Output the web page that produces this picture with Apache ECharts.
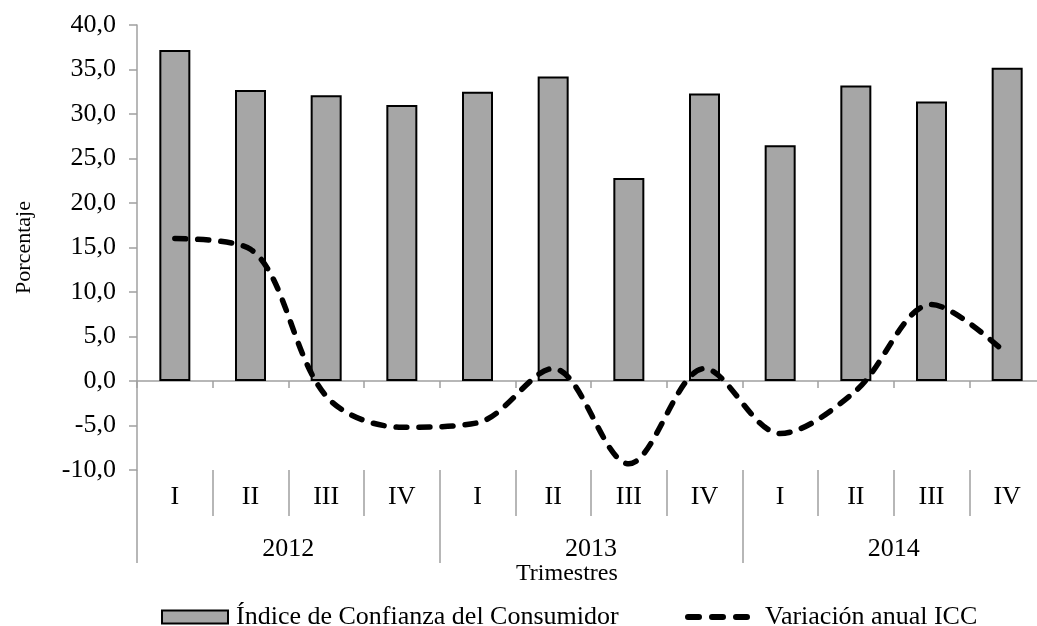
<!DOCTYPE html>
<html>
<head>
<meta charset="utf-8">
<script src="https://cdn.jsdelivr.net/npm/echarts@6/dist/echarts.min.js"></script>
<style>html,body{margin:0;padding:0;background:#fff}#c{width:1037px;height:626px}</style>
</head>
<body>
<div id="c"></div>
<script>
const quarters = ['I','II','III','IV','I','II','III','IV','I','II','III','IV'];
const years = ['2012','2013','2014'];
const icc = [37.2, 32.7, 32.1, 31.0, 32.5, 34.2, 22.8, 32.3, 26.5, 33.2, 31.4, 35.2];
const variacion = [16.0, 14.8, -1.7, -5.2, -4.7, 1.4, -9.3, 1.4, -5.9, -1.1, 8.6, 3.0];
const seriesNames = ['Índice de Confianza del Consumidor', 'Variación anual ICC'];

const FONT = '"Liberation Serif", "Times New Roman", serif';
const AX = '#a0a0a0';
const FS = 26;
const dashIcon = 'path://M3,0h11a3,3 0 0 1 0,6h-11a3,3 0 0 1 0,-6z M27,0h11a3,3 0 0 1 0,6h-11a3,3 0 0 1 0,-6z M51,0h11a3,3 0 0 1 0,6h-11a3,3 0 0 1 0,-6z';
const chart = echarts.init(document.getElementById('c'));
chart.setOption({
  animation: false,
  grid: {left: 137, right: -8, top: 25, bottom: 156, containLabel: false, outerBoundsMode: 'none'},
  legend: [
    {data: [{name: seriesNames[0], icon: 'rect'}], left: 156, top: 599, itemWidth: 66, itemHeight: 13,
     textStyle: {fontFamily: FONT, fontSize: FS, color: '#000', padding: [0, 0, 0, 3]}},
    {data: [{name: seriesNames[1], icon: dashIcon, itemStyle: {color: '#000', borderWidth: 0}}],
     left: 680, top: 599, itemWidth: 65, itemHeight: 6,
     textStyle: {fontFamily: FONT, fontSize: FS, color: '#000', padding: [0, 0, 0, 10]}}
  ],
  graphic: [{type: 'text', left: 516, top: 562, style: {text: 'Trimestres', font: '24px ' + FONT, fill: '#000'}}],
  xAxis: [
    {type: 'category', data: quarters, position: 'bottom',
     axisLine: {show: true, onZero: true, lineStyle: {color: AX, width: 1.5}},
     axisTick: {show: true, length: 7, lineStyle: {color: AX, width: 1.5}},
     axisLabel: {show: false}},
    {type: 'category', data: quarters, position: 'bottom', gridIndex: 0,
     axisLine: {show: false, onZero: false},
     axisTick: {show: true, inside: false, length: 46, lineStyle: {color: AX, width: 1.5}},
     axisLabel: {show: true, margin: 14, fontFamily: FONT, fontSize: FS, color: '#000'}},
    {type: 'category', data: years, position: 'bottom', gridIndex: 0,
     axisLine: {show: false, onZero: false},
     axisTick: {show: true, length: 93, lineStyle: {color: AX, width: 1.5}},
     axisLabel: {show: true, margin: 66, fontFamily: FONT, fontSize: FS, color: '#000'}}
  ],
  yAxis: {
    type: 'value', min: -10, max: 40, interval: 5,
    name: 'Porcentaje', nameLocation: 'middle', nameGap: 102, nameRotate: 90,
    nameTextStyle: {fontFamily: FONT, fontSize: 22, color: '#000'},
    axisLine: {show: true, lineStyle: {color: AX, width: 1.5}},
    axisTick: {show: true, length: 8, lineStyle: {color: AX, width: 1.5}},
    splitLine: {show: false},
    axisLabel: {margin: 21, fontFamily: FONT, fontSize: FS, color: '#000',
      formatter: v => v.toFixed(1).replace('.', ',')}
  },
  series: [
    {name: seriesNames[0], type: 'bar', xAxisIndex: 0, data: icc, barWidth: 31,
     itemStyle: {color: '#a6a6a6', borderColor: '#000', borderWidth: 2}},
    {name: seriesNames[1], type: 'line', xAxisIndex: 0, data: variacion, smooth: 0.33,
     symbol: 'none', showSymbol: false, z: 5,
     lineStyle: {color: '#000', width: 5.5, type: [11, 12], cap: 'round'},
     itemStyle: {color: '#000'}}
  ]
});
</script>
</body>
</html>
